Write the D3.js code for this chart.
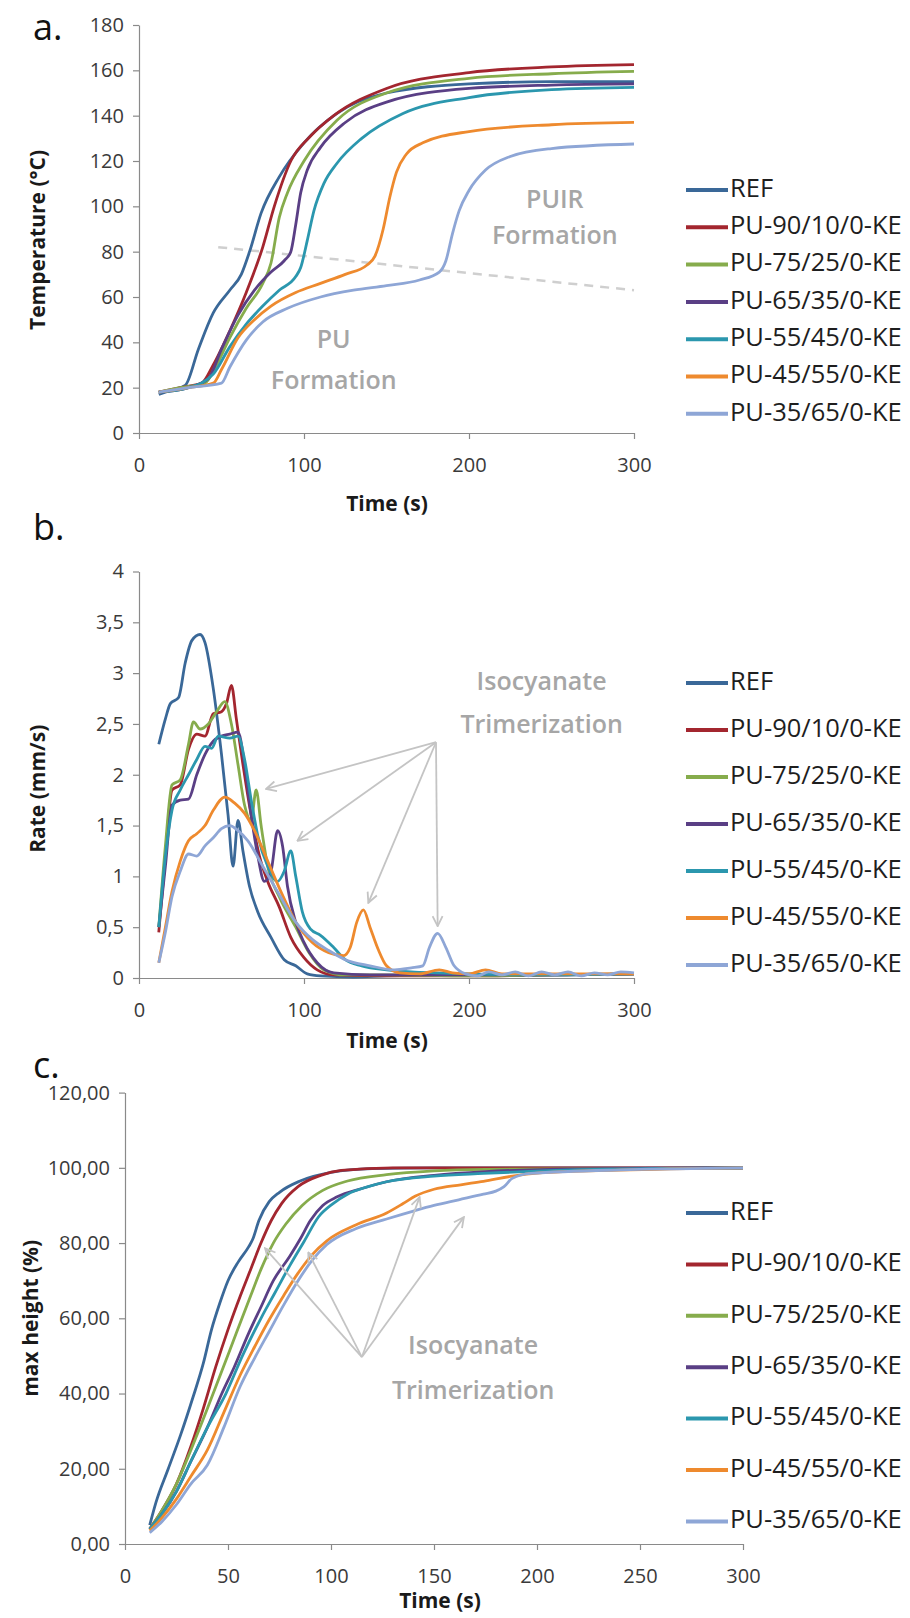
<!DOCTYPE html>
<html>
<head>
<meta charset="utf-8">
<script src="https://cdn.jsdelivr.net/npm/d3@7"></script>
<style>
  body { margin: 0; background: #fff; }
  svg { display: block; font-family: "Open Sans", sans-serif; }
</style>
</head>
<body>
<svg id="fig" width="910" height="1618"></svg>
<script>
// series shared by the three panels
const seriesNames = ["REF", "PU-90/10/0-KE", "PU-75/25/0-KE", "PU-65/35/0-KE",
                     "PU-55/45/0-KE", "PU-45/55/0-KE", "PU-35/65/0-KE"];
const seriesColours = ["#3a6898", "#a3262f", "#86ac4c", "#5a3f85", "#2b97ae", "#ee8a2e", "#8ea6d6"];

const timeTicks = [0, 100, 200, 300];
const timeTicksC = [0, 50, 100, 150, 200, 250, 300];

// a. temperature (°C) vs time (s), [t, value]
const tempREF  = [[12,17],[20,19],[28,21],[36,37],[45,53],[55,63],[62,70],[67,80],[74,97],[85,113],[100,128],[120,141],[150,150],[200,154],[250,155],[300,155]];
const temp9010 = [[12,18],[25,20],[38,22],[45,30],[55,45],[65,62],[75,82],[82,100],[92,120],[104,131],[118,140],[150,152],[200,159],[250,161.5],[300,162.5]];
const temp7525 = [[12,18],[25,20],[40,22],[47,30],[55,42],[65,55],[75,66],[80,75],[85,95],[90,106],[100,120],[120,138],[150,150],[200,156.5],[250,158.5],[300,159.5]];
const temp6535 = [[12,18],[30,20],[42,24],[50,37],[60,52],[70,63],[80,71],[88,76],[92,80],[95,92],[98,106],[102,116],[110,126],[125,137],[150,146],[200,152],[250,153.5],[300,154]];
const temp5545 = [[12,18],[30,20],[45,26],[55,38],[65,48],[75,56],[85,63],[95,69],[98,73],[102,85],[106,98],[112,110],[120,119],[135,130],[160,141],[200,148],[250,151.5],[300,152.5]];
const temp4555 = [[12,18],[30,20],[45,22],[50,28],[60,42],[70,50],[80,56],[95,62],[110,66],[125,70],[138,74],[143,78],[148,90],[152,104],[156,115],[162,123],[172,128],[200,133],[250,136],[300,137]];
const temp3565 = [[12,18],[30,20],[50,22],[55,29],[65,41],[75,49],[90,55],[110,60],[130,63],[150,65],[170,67.5],[182,71],[186,76],[190,88],[194,98],[200,107],[210,116],[225,122],[250,125.5],[300,127.5]];
const tempDashed = [[48,82],[300,63]];
const tempTicks = [0, 20, 40, 60, 80, 100, 120, 140, 160, 180];

// b. rise rate (mm/s) vs time (s)
const rateREF  = [[12,2.3],[16,2.55],[19,2.7],[24,2.76],[28,3.1],[32,3.32],[37,3.38],[40,3.3],[45,2.85],[50,2.2],[54,1.6],[57,1.1],[60,1.55],[63,1.25],[67,0.9],[72,0.65],[80,0.4],[88,0.18],[95,0.12],[102,0.04],[110,0.02],[130,0.01],[150,0.02],[200,0.03],[250,0.03],[300,0.04]];
const rate9010 = [[12,0.45],[16,1.2],[20,1.85],[25,1.9],[30,2.25],[35,2.4],[40,2.38],[45,2.6],[50,2.62],[53,2.7],[56,2.88],[59,2.55],[63,2.1],[68,1.6],[73,1.2],[78,0.95],[85,0.7],[92,0.4],[100,0.2],[108,0.08],[118,0.03],[150,0.02],[200,0.02],[250,0.03],[300,0.04]];
const rate7525 = [[12,0.5],[16,1.3],[20,1.9],[25,1.95],[30,2.3],[33,2.52],[37,2.45],[42,2.5],[47,2.62],[52,2.72],[56,2.5],[60,2.1],[64,1.7],[68,1.55],[71,1.85],[74,1.5],[78,1.1],[85,0.8],[95,0.5],[103,0.25],[112,0.08],[125,0.03],[150,0.03],[200,0.02],[250,0.03],[300,0.04]];
const rate6535 = [[12,0.5],[16,1.1],[20,1.7],[25,1.75],[30,1.76],[35,2.0],[40,2.2],[45,2.33],[50,2.38],[55,2.4],[60,2.42],[64,2.1],[68,1.6],[72,1.2],[76,0.95],[80,1.05],[84,1.45],[87,1.3],[90,0.9],[95,0.55],[100,0.35],[108,0.15],[118,0.05],[140,0.03],[200,0.03],[250,0.03],[300,0.04]];
const rate5545 = [[12,0.5],[16,1.2],[20,1.65],[25,1.85],[30,2.0],[35,2.15],[40,2.28],[44,2.26],[48,2.38],[55,2.36],[60,2.38],[64,2.15],[68,1.75],[72,1.4],[78,1.1],[84,0.95],[88,1.05],[92,1.25],[95,1.0],[99,0.65],[104,0.48],[110,0.42],[118,0.3],[125,0.18],[135,0.12],[150,0.08],[165,0.06],[180,0.05],[200,0.04],[250,0.03],[300,0.04]];
const rate4555 = [[12,0.15],[16,0.5],[20,0.85],[25,1.15],[30,1.35],[35,1.42],[40,1.5],[45,1.65],[52,1.78],[58,1.72],[64,1.62],[70,1.45],[78,1.15],[86,0.85],[95,0.55],[105,0.35],[115,0.25],[124,0.22],[128,0.3],[132,0.55],[136,0.67],[140,0.5],[145,0.28],[150,0.12],[158,0.05],[170,0.04],[182,0.08],[190,0.05],[200,0.04],[210,0.08],[220,0.04],[260,0.04],[300,0.04]];
const rate3565 = [[12,0.15],[16,0.45],[20,0.8],[25,1.05],[30,1.22],[35,1.2],[40,1.3],[45,1.38],[50,1.47],[55,1.5],[60,1.45],[66,1.35],[75,1.1],[85,0.82],[95,0.55],[105,0.38],[115,0.27],[125,0.18],[140,0.12],[155,0.08],[165,0.1],[172,0.12],[176,0.3],[181,0.44],[186,0.3],[191,0.12],[198,0.04],[205,0.02],[212,0.06],[220,0.03],[228,0.06],[236,0.02],[244,0.06],[252,0.03],[260,0.06],[268,0.02],[276,0.05],[284,0.03],[292,0.06],[300,0.05]];
const rateArrowFrom = [180, 2.32];
const rateArrowTips = [[77, 1.86], [96, 1.35], [139, 0.74], [181, 0.51]];
const rateTicks = [0, 0.5, 1, 1.5, 2, 2.5, 3, 3.5, 4];

// c. height (% of max) vs time (s)
const heightREF  = [[12,5],[15,11],[21,20],[27,29],[33,39],[38,48],[42,57],[46,64],[50,70],[55,75],[60,79],[62,81],[65,86],[70,91],[75,93.5],[85,96.5],[100,98.8],[120,99.8],[150,100],[300,100]];
const height9010 = [[12,4],[18,9],[25,16],[32,26],[38,36],[44,47],[50,57],[56,66],[61,73],[66,80],[71,86],[76,90.5],[84,95],[95,98],[105,99.3],[130,100],[300,100]];
const height7525 = [[12,4],[18,9],[25,16],[32,25],[40,36],[47,46],[54,56],[61,66],[66,73],[72,80],[78,85],[86,90],[96,94],[108,96.5],[127,98.2],[150,99.2],[175,99.6],[300,100]];
const height6535 = [[12,4],[18,8],[25,14],[32,22],[40,31],[47,40],[53,47],[60,56],[66,63],[72,70],[80,76.5],[85,81],[90,86],[96,90],[103,92.3],[115,94.5],[127,96.3],[150,98],[175,99],[221,99.7],[300,100]];
const height5545 = [[12,4],[18,8],[25,14],[32,22],[40,31],[49,40],[57,50],[66,60],[73,67],[80,74],[87,80.5],[94,87],[101,90.5],[108,93],[118,95],[127,96.3],[150,97.8],[174,98.5],[221,99.5],[300,100]];
const height4555 = [[12,3.5],[18,7],[25,12],[32,18],[40,25],[48,35],[56,45],[63,52.5],[70,59.6],[77,66],[84,72],[91,77],[98,80.6],[112,84.8],[127,88],[135,90.5],[141,92.5],[150,94.3],[163,95.5],[174,96.4],[188,97.8],[200,98.6],[240,99.4],[300,100]];
const height3565 = [[12,3],[18,6],[25,10.5],[32,16],[40,21],[48,31],[56,42],[63,49.5],[70,56.5],[77,63.5],[84,70],[91,75.5],[98,79.6],[112,83.8],[127,86.4],[140,88.5],[150,90],[162,91.5],[174,93],[180,93.8],[184,95],[188,97.2],[197,98.5],[245,99.5],[300,100]];
const heightArrowFrom = [115, 49.7];
const heightArrowTips = [[68, 78.6], [89, 77.5], [143, 92.2], [164.5, 86.9]];
const heightTicks = [0, 20, 40, 60, 80, 100, 120];

const svg = d3.select('#fig');
const noteGrey = '#a6a6a6';

// open arrow head like the excel one
svg.append('defs').append('marker')
  .attr('id', 'arrow')
  .attr('viewBox', '0 0 12 12')
  .attr('refX', 11).attr('refY', 6)
  .attr('markerWidth', 12).attr('markerHeight', 12)
  .attr('markerUnits', 'userSpaceOnUse')
  .attr('orient', 'auto')
  .append('path')
  .attr('d', 'M1,1 L11,6 L1,11')
  .attr('fill', 'none')
  .attr('stroke', '#c4c4c4')
  .attr('stroke-width', 1.8);

function panel(cfg) {
  const g = svg.append('g');
  const x = d3.scaleLinear().domain([0, 300]).range([cfg.left, cfg.right]);
  const y = d3.scaleLinear().domain([0, cfg.yMax]).range([cfg.bottom, cfg.top]);

  // axes
  g.append('g')
    .attr('transform', `translate(${cfg.left},0)`)
    .call(d3.axisLeft(y).tickValues(cfg.yTicks).tickSize(6).tickSizeOuter(0).tickPadding(9).tickFormat(cfg.yFormat));
  g.append('g')
    .attr('transform', `translate(0,${cfg.bottom})`)
    .call(d3.axisBottom(x).tickValues(cfg.xTicks).tickSize(6).tickSizeOuter(0).tickPadding(19).tickFormat(d3.format('d')));
  g.selectAll('.domain, .tick line').attr('stroke', '#8a8a8a').attr('stroke-width', 1.2);
  g.selectAll('.tick text').attr('font-size', 20).attr('fill', '#3a3a3a').attr('font-family', '"Open Sans", sans-serif');

  // axis titles
  g.append('text')
    .attr('x', cfg.xTitleX).attr('y', cfg.bottom + cfg.xTitleDy)
    .attr('text-anchor', 'middle')
    .attr('font-size', 21).attr('font-weight', 700).attr('fill', '#1a1a1a')
    .text('Time (s)');
  g.append('text')
    .attr('transform', `translate(${cfg.yTitleX},${(cfg.top + cfg.bottom) / 2 + cfg.yTitleDy}) rotate(-90)`)
    .attr('text-anchor', 'middle')
    .attr('font-size', 21).attr('font-weight', 700).attr('fill', '#1a1a1a')
    .text(cfg.yTitle);

  // panel letter
  g.append('text')
    .attr('x', 33).attr('y', cfg.letterY)
    .attr('font-size', 36).attr('fill', '#111')
    .text(cfg.letter);

  // extra marks drawn under the series
  if (cfg.dashed) {
    g.append('line')
      .attr('x1', x(cfg.dashed[0][0])).attr('y1', y(cfg.dashed[0][1]))
      .attr('x2', x(cfg.dashed[1][0])).attr('y2', y(cfg.dashed[1][1]))
      .attr('stroke', '#cfcfcf').attr('stroke-width', 2.5).attr('stroke-dasharray', '9,7');
  }

  const line = d3.line()
    .x(d => x(d[0]))
    .y(d => y(d[1]))
    .curve(d3.curveMonotoneX);

  g.selectAll('.series')
    .data(cfg.series)
    .enter()
    .append('path')
    .attr('class', 'series')
    .attr('d', d => line(d))
    .attr('fill', 'none')
    .attr('stroke', (d, i) => seriesColours[i])
    .attr('stroke-width', 2.8)
    .attr('stroke-linejoin', 'round');

  // arrows
  if (cfg.arrowFrom) {
    cfg.arrowTips.forEach(t => {
      g.append('line')
        .attr('x1', x(cfg.arrowFrom[0])).attr('y1', y(cfg.arrowFrom[1]))
        .attr('x2', x(t[0])).attr('y2', y(t[1]))
        .attr('stroke', '#c4c4c4').attr('stroke-width', 1.8)
        .attr('marker-end', 'url(#arrow)');
    });
  }

  // grey notes
  cfg.notes.forEach(n => {
    g.append('text')
      .attr('x', x(n[0])).attr('y', y(n[1]))
      .attr('text-anchor', 'middle')
      .attr('dominant-baseline', 'middle')
      .attr('font-size', 25).attr('font-weight', 600).attr('fill', noteGrey)
      .text(n[2]);
  });

  // legend
  const leg = g.selectAll('.leg')
    .data(seriesNames)
    .enter()
    .append('g')
    .attr('transform', (d, i) => `translate(0,${cfg.legendY + i * cfg.legendStep})`);
  leg.append('line')
    .attr('x1', 686).attr('x2', 728)
    .attr('stroke', (d, i) => seriesColours[i])
    .attr('stroke-width', 4);
  leg.append('text')
    .attr('x', 730).attr('y', 0)
    .attr('dominant-baseline', 'middle')
    .attr('font-size', 25.5).attr('fill', '#1e1e1e')
    .text(d => d);
}

const commaFmt = f => (d => d3.format(f)(d).replace('.', ','));

panel({
  letter: 'a.', letterY: 40,
  left: 139, right: 634, top: 25, bottom: 433, yMax: 180,
  yTicks: tempTicks, xTicks: timeTicks, yFormat: d3.format('d'),
  yTitle: 'Temperature (°C)', yTitleX: 45, yTitleDy: 11, xTitleX: 387, xTitleDy: 78,
  series: [tempREF, temp9010, temp7525, temp6535, temp5545, temp4555, temp3565],
  dashed: tempDashed,
  notes: [[252, 102.3, 'PUIR'], [252, 86.4, 'Formation'], [118, 40.5, 'PU'], [118, 22.5, 'Formation']],
  legendY: 190, legendStep: 37.3
});

panel({
  letter: 'b.', letterY: 540,
  left: 139, right: 634, top: 571.5, bottom: 978, yMax: 4,
  yTicks: rateTicks, xTicks: timeTicks, yFormat: commaFmt(''),
  yTitle: 'Rate (mm/s)', yTitleX: 45, yTitleDy: 14, xTitleX: 387, xTitleDy: 70,
  series: [rateREF, rate9010, rate7525, rate6535, rate5545, rate4555, rate3565],
  arrowFrom: rateArrowFrom, arrowTips: rateArrowTips,
  notes: [[244, 2.9, 'Isocyanate'], [244, 2.48, 'Trimerization']],
  legendY: 683, legendStep: 47
});

panel({
  letter: 'c.', letterY: 1078,
  left: 125, right: 743, top: 1092.6, bottom: 1544, yMax: 120,
  yTicks: heightTicks, xTicks: timeTicksC, yFormat: commaFmt('.2f'),
  yTitle: 'max height (%)', yTitleX: 38, yTitleDy: 0, xTitleX: 440, xTitleDy: 64,
  series: [heightREF, height9010, height7525, height6535, height5545, height4555, height3565],
  arrowFrom: heightArrowFrom, arrowTips: heightArrowTips,
  notes: [[169, 52.3, 'Isocyanate'], [169, 40.2, 'Trimerization']],
  legendY: 1213, legendStep: 51.4
});
</script>
</body>
</html>
